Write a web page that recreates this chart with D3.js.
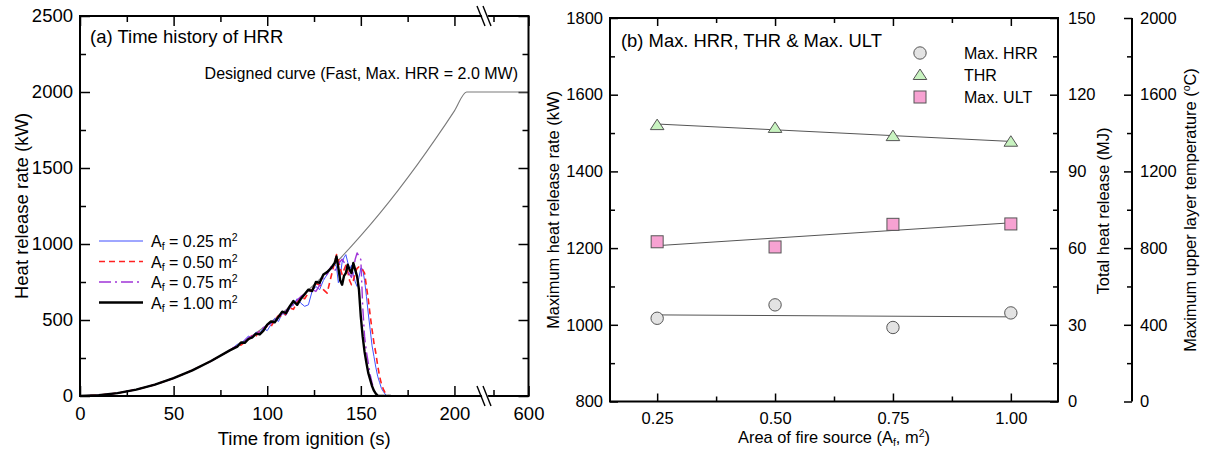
<!DOCTYPE html>
<html><head><meta charset="utf-8">
<script src="https://cdn.jsdelivr.net/npm/d3@7"></script>
<style>
body{margin:0;background:#fff}
svg{display:block}
text{font-family:Arial,"Liberation Sans",sans-serif;fill:#000}
</style>
</head><body>
<svg id="c" width="1205" height="450"></svg>
<script>
// ---------------- DATA (panel a) ----------------
const tGrid = [0,10,20,30,40,50,60,70,80,
  84,86,88,90,92,94,96,98,100,102,104,106,108,110,112,114,116,118,120,122,124,126,128,130,132,134,136,
  137,138,139,140,141,142,143,144,145,146,147,148,149,150,151,152,153,154,155,156,157,158,159,160,161,162,163,164,165,166];
const early = [0,5,19,42,75,117,169,230,300];
const hrr025 = early.concat([340,345,370,395,380,420,415,445,430,470,510,490,545,530,575,600,640,610,590,600,690,720,700,760,800,840,870,
  850,745,790,880,910,930,880,830,860,800,750,721,780,842,835,760,655,540,436,330,260,190,130,90,50,30,12,0,0,0]);
const hrr050 = early.concat([330,335,355,370,400,395,430,440,460,455,500,530,520,540,580,570,620,650,640,680,700,740,730,700,677,780,880,
  930,900,840,800,830,860,820,760,732,760,810,840,850,842,830,809,720,634,530,436,350,283,200,130,80,45,20,8,0,0]);
const hrr075 = early.concat([335,350,365,385,395,410,425,450,465,480,500,525,540,560,590,600,630,655,670,690,700,688,730,780,800,850,820,
  850,870,885,900,880,860,820,800,780,830,900,941,920,897,590,392,290,217,140,86,40,8,0,0,0,0,0,0,0,0]);
const hrr100 = early.concat([325,352,350,375,385,410,405,430,470,490,485,520,555,545,590,625,600,640,670,700,690,750,745,800,815,840,875,
  918,842,760,732,790,809,864,830,809,875,830,787,700,520,390,290,217,150,107,65,35,15,3,0,0,0,0,0,0,0]);
const designT = [0,10,20,30,40,50,60,70,80,90,100,110,120,130,140,150,160,170,180,190,200,206.5,600];
const designQ = [0,4.7,18.8,42.2,75,117,169,230,300,380,469,567,675,792,919,1055,1200,1355,1519,1693,1876,2000,2000];
const seriesLabels = ["0.25","0.50","0.75","1.00"];
const xTicksA = [0,50,100,150,200,600];
const xMinorA = [25,75,125,175,575];
const yTicksA = [0,500,1000,1500,2000,2500];
const yMinorA = [250,750,1250,1750,2250];

// ---------------- DATA (panel b) ----------------
const areas = [0.25,0.50,0.75,1.00];
const maxHRR = [1017,1052,993,1031];
const thr = [108.1,107.0,103.8,101.6];
const maxULT = [833,806,924,926];
const xTicksB = [0.25,0.50,0.75,1.00];
const xMinorB = [0.375,0.625,0.875];
const yTicksB = [800,1000,1200,1400,1600,1800];
const yMinorB = [900,1100,1300,1500,1700];
const thrTicks = [0,30,60,90,120,150];
const thrMinor = [15,45,75,105,135];
const ultTicks = [0,400,800,1200,1600,2000];
const ultMinor = [200,600,1000,1400,1800];
const legendB = ["Max. HRR","THR","Max. ULT"];

const FONT = 'Arial, "Liberation Sans", sans-serif';
const svg = d3.select("#c");

function styleAxis(g, fs){
  g.select(".domain").remove();
  g.attr("font-family", FONT).attr("font-size", fs);
  g.selectAll(".tick line").attr("stroke","#000").attr("stroke-width",1.5);
  g.selectAll(".tick text").attr("fill","#000");
}

// ================= Panel (a) =================
const A = {x0:80, x1:528.5, y0:16, y1:396};
const xa = d3.scaleLinear().domain([0,216,575,600]).range([80,484.4,493.5,528.5]);
const ya = d3.scaleLinear().domain([0,2500]).range([A.y1, A.y0]);
const ga = svg.append("g");

ga.append("defs").append("clipPath").attr("id","clipA").append("rect")
  .attr("x",A.x0).attr("y",A.y0).attr("width",A.x1-A.x0).attr("height",A.y1-A.y0);

// axes
styleAxis(ga.append("g").attr("transform",`translate(0,${A.y1})`)
  .call(d3.axisBottom(xa).tickValues(xTicksA).tickSizeInner(-10).tickSizeOuter(0).tickPadding(11).tickFormat(d3.format("d"))),18.5);
styleAxis(ga.append("g").attr("transform",`translate(0,${A.y1})`)
  .call(d3.axisBottom(xa).tickValues(xMinorA).tickSizeInner(-6).tickSizeOuter(0).tickFormat("")),18.5);
styleAxis(ga.append("g").attr("transform",`translate(0,${A.y0})`)
  .call(d3.axisTop(xa).tickValues(xTicksA).tickSizeInner(-10).tickSizeOuter(0).tickFormat("")),18.5);
styleAxis(ga.append("g").attr("transform",`translate(0,${A.y0})`)
  .call(d3.axisTop(xa).tickValues(xMinorA).tickSizeInner(-6).tickSizeOuter(0).tickFormat("")),18.5);
styleAxis(ga.append("g").attr("transform",`translate(${A.x0},0)`)
  .call(d3.axisLeft(ya).tickValues(yTicksA).tickSizeInner(-10).tickSizeOuter(0).tickPadding(7).tickFormat(d3.format("d"))),18.5);
styleAxis(ga.append("g").attr("transform",`translate(${A.x0},0)`)
  .call(d3.axisLeft(ya).tickValues(yMinorA).tickSizeInner(-6).tickSizeOuter(0).tickFormat("")),18.5);
styleAxis(ga.append("g").attr("transform",`translate(${A.x1},0)`)
  .call(d3.axisRight(ya).tickValues(yTicksA).tickSizeInner(-10).tickSizeOuter(0).tickFormat("")),18.5);
styleAxis(ga.append("g").attr("transform",`translate(${A.x1},0)`)
  .call(d3.axisRight(ya).tickValues(yMinorA).tickSizeInner(-6).tickSizeOuter(0).tickFormat("")),18.5);

// lines
const lineA = d3.line().x(d=>xa(d[0])).y(d=>ya(d[1]));
const plotA = ga.append("g").attr("clip-path","url(#clipA)");
plotA.append("path").datum(designT.map((t,i)=>[t,designQ[i]]))
  .attr("d", d3.line().x(d=>xa(d[0])).y(d=>ya(d[1])).curve(d3.curveMonotoneX))
  .attr("fill","none").attr("stroke","#7a7a7a").attr("stroke-width",1.1);

const seriesA = [
  {v:hrr025, color:"#3f4fff", w:1, dash:null},
  {v:hrr050, color:"#ff2020", w:1.6, dash:"6,4"},
  {v:hrr075, color:"#a034d8", w:1.4, dash:"12,4,2,4"},
  {v:hrr100, color:"#000000", w:2.4, dash:null}
];
seriesA.forEach(s=>{
  plotA.append("path").datum(tGrid.map((t,i)=>[t,s.v[i]]))
    .attr("d", lineA).attr("fill","none").attr("stroke",s.color)
    .attr("stroke-width",s.w).attr("stroke-dasharray",s.dash).attr("stroke-linejoin","round");
});

// frame
ga.append("rect").attr("x",A.x0).attr("y",A.y0).attr("width",A.x1-A.x0).attr("height",A.y1-A.y0)
  .attr("fill","none").attr("stroke","#000").attr("stroke-width",2);

// axis breaks
const bx = 484;
[A.y0, A.y1].forEach(yy=>{
  ga.append("polygon").attr("points",`${bx-5},${yy-9} ${bx+1},${yy-9} ${bx+7},${yy+9} ${bx+1},${yy+9}`)
    .attr("fill","#fff");
  [-3,3].forEach(o=>{
    ga.append("line").attr("x1",bx+o-4).attr("y1",yy-10).attr("x2",bx+o+4).attr("y2",yy+10)
      .attr("stroke","#000").attr("stroke-width",1.4);
  });
});

// texts
ga.append("text").attr("x",90).attr("y",43).attr("font-size",18.5).text("(a) Time history of HRR");
ga.append("text").attr("x",518).attr("y",79).attr("font-size",16).attr("text-anchor","end")
  .text("Designed curve (Fast, Max. HRR = 2.0 MW)");
ga.append("text").attr("x",(A.x0+A.x1)/2).attr("y",445).attr("font-size",18.5).attr("text-anchor","middle")
  .text("Time from ignition (s)");
ga.append("text").attr("transform",`translate(28,${(A.y0+A.y1)/2}) rotate(-90)`)
  .attr("font-size",18.5).attr("text-anchor","middle").text("Heat release rate (kW)");

// legend (a)
const legA = ga.append("g");
seriesA.forEach((s,i)=>{
  const yy = 241 + i*20.5;
  legA.append("line").attr("x1",99).attr("x2",143).attr("y1",yy).attr("y2",yy)
    .attr("stroke",s.color).attr("stroke-width",s.w).attr("stroke-dasharray",s.dash);
  const t = legA.append("text").attr("x",151).attr("y",yy+6).attr("font-size",16);
  t.append("tspan").text("A");
  t.append("tspan").attr("font-size",10.5).attr("dy",3).text("f");
  t.append("tspan").attr("dy",-3).text(" = " + seriesLabels[i] + " m");
  t.append("tspan").attr("font-size",10.5).attr("dy",-6).text("2");
});

// ================= Panel (b) =================
const B = {x0:610, x1:1058, y0:18, y1:401.5, x2:1132};
const xb = d3.scaleLinear().domain([0.15,1.1]).range([B.x0,B.x1]);
const yb = d3.scaleLinear().domain([800,1800]).range([B.y1,B.y0]);
const yThr = d3.scaleLinear().domain([0,150]).range([B.y1,B.y0]);
const yUlt = d3.scaleLinear().domain([0,2000]).range([B.y1,B.y0]);
const gb = svg.append("g");
const fmt2 = d3.format(".2f");

styleAxis(gb.append("g").attr("transform",`translate(0,${B.y1})`)
  .call(d3.axisBottom(xb).tickValues(xTicksB).tickSizeInner(-8).tickSizeOuter(0).tickPadding(10.5).tickFormat(fmt2)),16.5);
styleAxis(gb.append("g").attr("transform",`translate(0,${B.y1})`)
  .call(d3.axisBottom(xb).tickValues(xMinorB).tickSizeInner(-5).tickSizeOuter(0).tickFormat("")),16.5);
styleAxis(gb.append("g").attr("transform",`translate(0,${B.y0})`)
  .call(d3.axisTop(xb).tickValues(xTicksB).tickSizeInner(-8).tickSizeOuter(0).tickFormat("")),16.5);
styleAxis(gb.append("g").attr("transform",`translate(0,${B.y0})`)
  .call(d3.axisTop(xb).tickValues(xMinorB).tickSizeInner(-5).tickSizeOuter(0).tickFormat("")),16.5);
styleAxis(gb.append("g").attr("transform",`translate(${B.x0},0)`)
  .call(d3.axisLeft(yb).tickValues(yTicksB).tickSizeInner(-8).tickSizeOuter(0).tickPadding(7).tickFormat(d3.format("d"))),16.5);
styleAxis(gb.append("g").attr("transform",`translate(${B.x0},0)`)
  .call(d3.axisLeft(yb).tickValues(yMinorB).tickSizeInner(-5).tickSizeOuter(0).tickFormat("")),16.5);
styleAxis(gb.append("g").attr("transform",`translate(${B.x1},0)`)
  .call(d3.axisRight(yThr).tickValues(thrTicks).tickSizeInner(-8).tickSizeOuter(0).tickPadding(10).tickFormat(d3.format("d"))),16.5);
styleAxis(gb.append("g").attr("transform",`translate(${B.x1},0)`)
  .call(d3.axisRight(yThr).tickValues(thrMinor).tickSizeInner(-5).tickSizeOuter(0).tickFormat("")),16.5);
styleAxis(gb.append("g").attr("transform",`translate(${B.x2},0)`)
  .call(d3.axisRight(yUlt).tickValues(ultTicks).tickSizeInner(-8).tickSizeOuter(0).tickPadding(8).tickFormat(d3.format("d"))),16.5);
styleAxis(gb.append("g").attr("transform",`translate(${B.x2},0)`)
  .call(d3.axisRight(yUlt).tickValues(ultMinor).tickSizeInner(-5).tickSizeOuter(0).tickFormat("")),16.5);
gb.append("line").attr("x1",B.x2).attr("x2",B.x2).attr("y1",B.y0).attr("y2",B.y1)
  .attr("stroke","#000").attr("stroke-width",2);

// frame
gb.append("rect").attr("x",B.x0).attr("y",B.y0).attr("width",B.x1-B.x0).attr("height",B.y1-B.y0)
  .attr("fill","none").attr("stroke","#000").attr("stroke-width",2);

// trend lines (least squares)
function fit(xs, ys){
  const mx=d3.mean(xs), my=d3.mean(ys);
  const b=d3.sum(xs.map((x,i)=>(x-mx)*(ys[i]-my)))/d3.sum(xs.map(x=>(x-mx)*(x-mx)));
  return x=>my+b*(x-mx);
}
const groups = [
  {v:maxHRR, s:yb, type:"circle", fill:"#e3e3e3"},
  {v:thr, s:yThr, type:"tri", fill:"#c8f3c0"},
  {v:maxULT, s:yUlt, type:"square", fill:"#f7a2d2"}
];
const xEnds = [areas[0], areas[areas.length-1]];
groups.forEach(g=>{
  const f = fit(areas, g.v);
  gb.append("path").datum(xEnds.map(x=>[x,f(x)]))
    .attr("d", d3.line().x(d=>xb(d[0])).y(d=>g.s(d[1])))
    .attr("stroke","#555").attr("stroke-width",1).attr("fill","none");
});
function marker(sel, type, fill){
  if(type==="circle"){
    sel.append("circle").attr("r",6.2).attr("fill",fill).attr("stroke","#555").attr("stroke-width",1);
  } else if(type==="tri"){
    sel.append("path").attr("d","M0,-6L6.8,4.5L-6.8,4.5Z").attr("fill",fill).attr("stroke","#555").attr("stroke-width",1);
  } else {
    sel.append("rect").attr("x",-6).attr("y",-6).attr("width",12).attr("height",12)
      .attr("fill",fill).attr("stroke","#555").attr("stroke-width",1);
  }
}
groups.forEach(g=>{
  areas.forEach((a,i)=>{
    const m = gb.append("g").attr("transform",`translate(${xb(a)},${g.s(g.v[i])})`);
    marker(m, g.type, g.fill);
  });
});

// legend (b)
groups.forEach((g,i)=>{
  const yy = [53,75,97][i];
  const m = gb.append("g").attr("transform",`translate(920,${yy})`);
  marker(m, g.type, g.fill);
  gb.append("text").attr("x",964).attr("y",yy+6).attr("font-size",16).text(legendB[i]);
});

// texts (b)
gb.append("text").attr("x",621).attr("y",47).attr("font-size",18.4).text("(b) Max. HRR, THR & Max. ULT");
const xt = gb.append("text").attr("x",(B.x0+B.x1)/2).attr("y",443).attr("font-size",16.4).attr("text-anchor","middle");
xt.append("tspan").text("Area of fire source (A");
xt.append("tspan").attr("font-size",10.5).attr("dy",3).text("f");
xt.append("tspan").attr("dy",-3).text(", m");
xt.append("tspan").attr("font-size",10.5).attr("dy",-6).text("2");
xt.append("tspan").attr("dy",6).text(")");
gb.append("text").attr("transform",`translate(559,210) rotate(-90)`)
  .attr("font-size",16.4).attr("text-anchor","middle").text("Maximum heat release rate (kW)");
gb.append("text").attr("transform",`translate(1109,211) rotate(-90)`)
  .attr("font-size",16.4).attr("text-anchor","middle").text("Total heat release (MJ)");
const ut = gb.append("text").attr("transform",`translate(1196,210) rotate(-90)`)
  .attr("font-size",16.4).attr("text-anchor","middle");
ut.append("tspan").text("Maximum upper layer temperature (");
ut.append("tspan").attr("font-size",10.5).attr("dy",-6).text("o");
ut.append("tspan").attr("dy",6).text("C)");
</script>
</body></html>
